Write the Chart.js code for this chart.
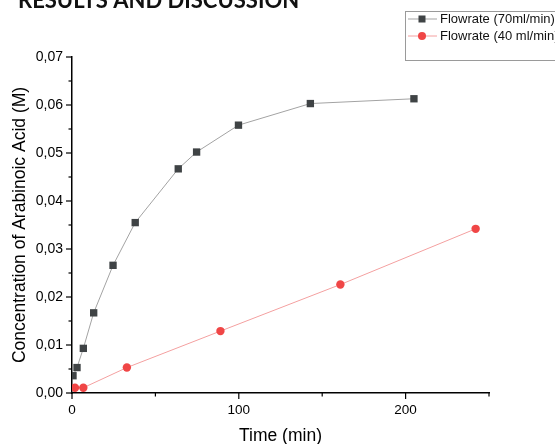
<!DOCTYPE html>
<html>
<head>
<meta charset="utf-8">
<script src="https://cdn.jsdelivr.net/npm/chart.js@4"></script>
<style>
  html, body { margin: 0; padding: 0; background: #fff; }
  #wrap { position: relative; width: 555px; height: 444px; overflow: hidden; }
</style>
</head>
<body>
<div id="wrap"><canvas id="chart" width="555" height="444"></canvas></div>
<script>
const time70 = [0.6, 3.0, 6.8, 13.0, 24.6, 37.9, 63.7, 74.7, 99.8, 142.9, 205];
const conc70 = [0.0036, 0.0053, 0.0093, 0.0167, 0.0266, 0.0355, 0.0467, 0.0502, 0.0558, 0.0603, 0.0613];
const time40 = [1.8, 6.8, 32.9, 89, 160.9, 242];
const conc40 = [0.0011, 0.0011, 0.0053, 0.0129, 0.0226, 0.0342];
const seriesLabels = ["Flowrate (70ml/min)", "Flowrate (40 ml/min)"];
const xTicks = [0, 100, 200];
const yTicks = [0, 0.01, 0.02, 0.03, 0.04, 0.05, 0.06, 0.07];

const FONT = "'Liberation Sans', Arial, sans-serif";
const darkMarker = "#3f4345";
const darkLine = "#a3a3a3";
const redMarker = "#f04646";
const redLine = "#f4a0a0";

function toPoints(xs, ys) {
  return xs.map((x, i) => ({ x, y: ys[i] }));
}

// minor/major tick marks, legend box and the clipped heading
const extras = {
  id: "extras",
  afterDraw(chart) {
    const { ctx, chartArea, scales } = chart;
    ctx.save();
    ctx.strokeStyle = "#000";
    ctx.lineWidth = 1.2;
    for (let i = 0; i <= 14; i++) {
      const py = scales.y.getPixelForValue(i * 0.005);
      const len = i % 2 === 0 ? 6 : 3.5;
      ctx.beginPath();
      ctx.moveTo(chartArea.left - len, py);
      ctx.lineTo(chartArea.left, py);
      ctx.stroke();
    }
    for (let i = 0; i <= 5; i++) {
      const px = scales.x.getPixelForValue(i * 50);
      const len = i % 2 === 0 ? 6 : 3.5;
      ctx.beginPath();
      ctx.moveTo(px, chartArea.bottom);
      ctx.lineTo(px, chartArea.bottom + len);
      ctx.stroke();
    }

    // legend
    ctx.strokeStyle = "#9a9a9a";
    ctx.lineWidth = 1;
    ctx.strokeRect(405.5, 11.5, 170, 49);
    const rows = [
      { y: 19, line: darkLine, marker: darkMarker, square: true },
      { y: 36, line: redLine, marker: redMarker, square: false },
    ];
    ctx.font = "13px " + FONT;
    ctx.textBaseline = "middle";
    rows.forEach((r, i) => {
      ctx.strokeStyle = r.line;
      ctx.beginPath();
      ctx.moveTo(408, r.y);
      ctx.lineTo(437, r.y);
      ctx.stroke();
      ctx.fillStyle = r.marker;
      if (r.square) {
        ctx.fillRect(418.5, r.y - 3.5, 7, 7);
      } else {
        ctx.beginPath();
        ctx.arc(422, r.y, 4, 0, Math.PI * 2);
        ctx.fill();
      }
      ctx.fillStyle = "#111";
      ctx.fillText(seriesLabels[i], 440, r.y);
    });

    // heading of the page, cut off by the top edge
    ctx.font = "bold 22px Lato, 'Open Sans', sans-serif";
    ctx.textBaseline = "alphabetic";
    ctx.fillStyle = "#111";
    ctx.fillText("RESULTS AND DISCUSSION", 18, 8);
    ctx.restore();
  },
};

new Chart(document.getElementById("chart"), {
  type: "scatter",
  data: {
    datasets: [
      {
        label: seriesLabels[0],
        data: toPoints(time70, conc70),
        showLine: true,
        borderColor: darkLine,
        borderWidth: 1,
        pointStyle: "rect",
        pointRadius: 5.2,
        pointBackgroundColor: darkMarker,
        pointBorderColor: darkMarker,
        pointBorderWidth: 0,
      },
      {
        label: seriesLabels[1],
        data: toPoints(time40, conc40),
        showLine: true,
        borderColor: redLine,
        borderWidth: 1,
        pointStyle: "circle",
        pointRadius: 4.2,
        pointBackgroundColor: redMarker,
        pointBorderColor: redMarker,
        pointBorderWidth: 0,
      },
    ],
  },
  options: {
    responsive: false,
    animation: false,
    layout: { padding: { top: 57, right: 66, left: 0, bottom: 0 } },
    plugins: {
      legend: { display: false },
      tooltip: { enabled: false },
    },
    scales: {
      x: {
        type: "linear",
        min: 0,
        max: 250,
        afterFit(scale) { scale.height = 51; },
        afterBuildTicks(scale) { scale.ticks = xTicks.map((v) => ({ value: v })); },
        ticks: {
          color: "#000",
          font: { family: FONT, size: 13.5 },
          padding: 9,
          maxRotation: 0,
          autoSkip: false,
        },
        grid: { display: true, drawOnChartArea: false, drawTicks: false },
        border: { color: "#000", width: 1.5 },
        title: {
          display: true,
          text: "Time (min)",
          color: "#000",
          font: { family: FONT, size: 17.5, lineHeight: 1 },
          padding: { top: 0, bottom: -1 },
        },
      },
      y: {
        min: 0,
        max: 0.07,
        afterFit(scale) { scale.width = 72; },
        afterBuildTicks(scale) { scale.ticks = yTicks.map((v) => ({ value: v })); },
        ticks: {
          color: "#000",
          font: { family: FONT, size: 14 },
          padding: 9,
          callback: (v) => Number(v).toFixed(2).replace(".", ","),
        },
        grid: { display: true, drawOnChartArea: false, drawTicks: false },
        border: { color: "#000", width: 1.5 },
        title: {
          display: true,
          text: "Concentration of Arabinoic Acid (M)",
          color: "#000",
          font: { family: FONT, size: 17.5, lineHeight: 1 },
          padding: { top: 11, bottom: 0 },
        },
      },
    },
  },
  plugins: [extras],
});
</script>
</body>
</html>
